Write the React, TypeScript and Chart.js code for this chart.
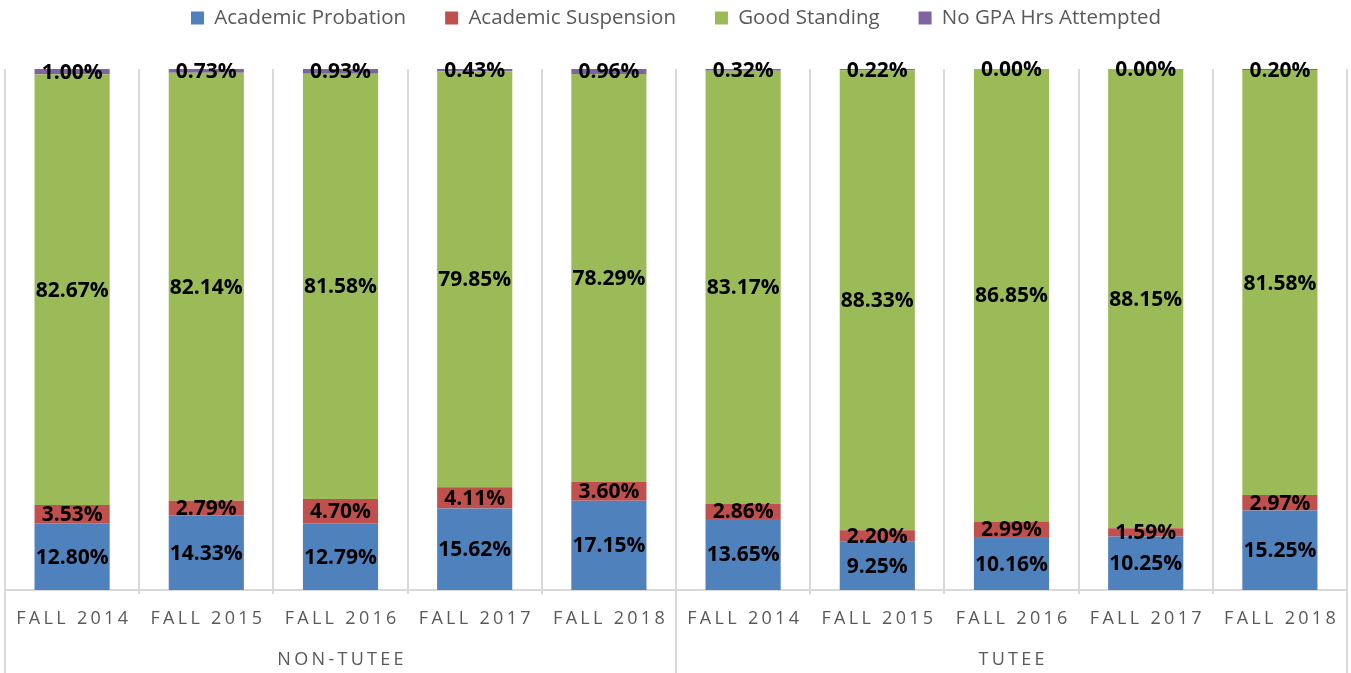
import React, { useEffect, useRef } from "react";
import { Chart, registerables } from "chart.js";

Chart.register(...registerables);

const categories = [
  "FALL 2014", "FALL 2015", "FALL 2016", "FALL 2017", "FALL 2018",
  "FALL 2014", "FALL 2015", "FALL 2016", "FALL 2017", "FALL 2018",
];
const groups = ["NON-TUTEE", "TUTEE"];
const groupSizes = [5, 5];

const probation = [12.8, 14.33, 12.79, 15.62, 17.15, 13.65, 9.25, 10.16, 10.25, 15.25];
const suspension = [3.53, 2.79, 4.7, 4.11, 3.6, 2.86, 2.2, 2.99, 1.59, 2.97];
const goodStanding = [82.67, 82.14, 81.58, 79.85, 78.29, 83.17, 88.33, 86.85, 88.15, 81.58];
const noGpa = [1.0, 0.73, 0.93, 0.43, 0.96, 0.32, 0.22, 0.0, 0.0, 0.2];

const seriesNames = ["Academic Probation", "Academic Suspension", "Good Standing", "No GPA Hrs Attempted"];
const seriesColors = ["#4F81BD", "#C0504D", "#9BBB59", "#8064A2"];

const FONT = "'Open Sans', 'Noto Sans', sans-serif";
const GRID = "#D9D9D9";

const labelsPlugin = {
  id: "customLabels",
  afterDatasetsDraw(chart: any) {
    const ctx = chart.ctx;
    ctx.save();
    ctx.font = `bold 21px ${FONT}`;
    ctx.fillStyle = "#000000";
    ctx.textAlign = "center";
    ctx.textBaseline = "middle";
    chart.data.datasets.forEach((ds: any, di: number) => {
      const meta = chart.getDatasetMeta(di);
      meta.data.forEach((el: any, i: number) => {
        const v = ds.data[i];
        const y = (el.y + el.base) / 2;
        ctx.fillText(v.toFixed(2) + "%", el.x, y + 1);
      });
    });
    ctx.restore();
  },
  afterDraw(chart: any) {
    const ctx = chart.ctx;
    const xs = chart.scales.x;
    const area = chart.chartArea;
    const H = chart.height;
    ctx.save();
    // separators
    ctx.strokeStyle = GRID;
    ctx.lineWidth = 2;
    const seps: number[] = [area.left];
    let idx = 0;
    groupSizes.forEach((n) => {
      idx += n;
      if (idx < categories.length) {
        seps.push((xs.getPixelForValue(idx - 1) + xs.getPixelForValue(idx)) / 2);
      }
    });
    seps.push(area.right);
    seps.forEach((x) => {
      ctx.beginPath();
      ctx.moveTo(x, area.bottom);
      ctx.lineTo(x, H);
      ctx.stroke();
    });
    // category labels
    ctx.fillStyle = "#595959";
    ctx.textAlign = "center";
    ctx.textBaseline = "middle";
    ctx.font = `18px ${FONT}`;
    const ls = 3.3;
    (ctx as any).letterSpacing = ls + "px";
    categories.forEach((c, i) => {
      ctx.fillText(c, xs.getPixelForValue(i) + ls / 2, area.bottom + 29);
    });
    let start = 0;
    groups.forEach((g, gi) => {
      const end = start + groupSizes[gi] - 1;
      const cx = (xs.getPixelForValue(start) + xs.getPixelForValue(end)) / 2;
      ctx.fillText(g, cx + ls / 2, area.bottom + 70);
      start = end + 1;
    });
    (ctx as any).letterSpacing = "0px";
    ctx.restore();
  },
};

export default function App() {
  const ref = useRef<HTMLCanvasElement>(null);
  useEffect(() => {
    if (!ref.current) return;
    const values = [probation, suspension, goodStanding, noGpa];
    const chart = new Chart(ref.current, {
      type: "bar",
      data: {
        labels: categories,
        datasets: values.map((d, i) => ({
          label: seriesNames[i],
          data: d,
          backgroundColor: seriesColors[i],
          borderWidth: 0,
          barPercentage: 0.7,
          categoryPercentage: 0.8,
        })),
      },
      options: {
        responsive: false,
        animation: false,
        layout: { padding: { top: -31.25, left: 5, right: 4, bottom: 79 } },
        plugins: {
          legend: {
            position: "top",
            labels: {
              font: { family: FONT, size: 20.5 },
              color: "#595959",
              boxWidth: 13,
              boxHeight: 13,
              padding: 39,
            },
          },
          title: {
            display: true,
            text: "",
            weight: 500,
            padding: { top: 29.75, bottom: 0 },
            font: { size: 1, lineHeight: 1 },
          },
          tooltip: { enabled: false },
        },
        scales: {
          x: {
            stacked: true,
            grid: {
              offset: true,
              color: GRID,
              lineWidth: 2,
              drawTicks: true,
              tickLength: 4,
            },
            border: { color: GRID, width: 2 },
            ticks: { display: false },
          },
          y: {
            stacked: true,
            display: false,
            min: 0,
            max: 100,
          },
        },
      },
      plugins: [labelsPlugin],
    });
    return () => chart.destroy();
  }, []);
  return (
    <canvas
      ref={ref}
      width={1351}
      height={673}
      style={{ position: "absolute", left: 0, top: 0, display: "block" }}
    />
  );
}
